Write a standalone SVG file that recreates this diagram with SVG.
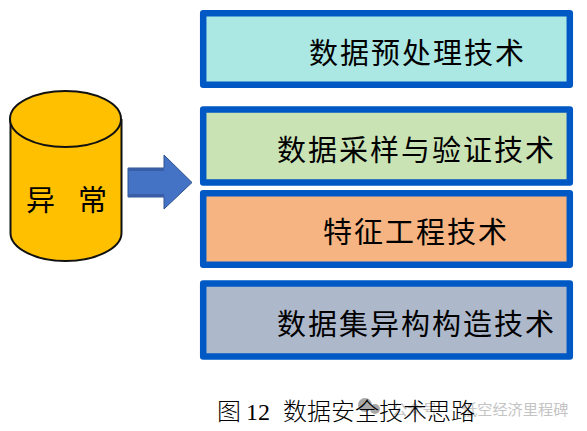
<svg xmlns="http://www.w3.org/2000/svg" width="587" height="431" viewBox="0 0 587 431">
<style>
.box{stroke:#0058c4;stroke-width:6.500;stroke-linejoin:round}
.t{font-family:"Noto Sans CJK SC","Noto Sans CJK JP",sans-serif;font-size:29px;fill:#000;letter-spacing:2px}
.c{fill:#ffc000;stroke:#111;stroke-width:2}
.cap{font-family:"Noto Sans CJK SC",sans-serif;font-size:24px;font-weight:300;fill:#000}
.wm{font-family:"Noto Sans CJK SC",sans-serif;font-size:15.200px;fill:#c4c4c4}
</style>
<rect width="587" height="431" fill="#fff"/>
<g id="cylinder">
<path class="c" d="M10.500 119V233C10.500 248 35 261 65.500 261S121.500 248 121.500 233V119"/>
<ellipse class="c" cx="65.500" cy="119" rx="55.500" ry="28"/>
<text class="t" x="26" y="211">异</text>
<text class="t" x="78" y="211">常</text>
</g>
<g id="connectors">
<path d="M128 168H164V155L192 182.500L164 209V197H128Z" fill="#4472c4" stroke="#2f528f" stroke-width="1"/>
<path d="M128.500 169.500H164M128.500 195.500H164" fill="none" stroke="#3a5ea6" stroke-width="3"/>
</g>
<g id="node1"><rect class="box" x="203.200" y="13.200" width="366.600" height="71.600" fill="#abe8e3"/><text class="t" x="309" y="64">数据预处理技术</text></g>
<g id="node2"><rect class="box" x="203.200" y="109.500" width="366.600" height="73" fill="#c9e3b5"/><text class="t" x="277" y="161">数据采样与验证技术</text></g>
<g id="node3"><rect class="box" x="203.200" y="193.200" width="366.600" height="71.600" fill="#f5b482"/><text class="t" x="323" y="243">特征工程技术</text></g>
<g id="node4"><rect class="box" x="203.200" y="283.500" width="366.600" height="73" fill="#adb8cb"/><text class="t" x="277" y="335">数据集异构构造技术</text></g>
<g id="watermark">
<ellipse cx="365" cy="405" rx="7" ry="7" fill="#a8a8a8"/>
<circle cx="375" cy="409" r="5" fill="#a8a8a8"/>
<text class="wm" x="392" y="415">公众号</text>
<text class="wm" x="462" y="415">低空经济里程碑</text>
</g>
<text class="cap" x="217" y="420">图</text>
<text x="246" y="420" font-family="'Liberation Serif',serif" font-size="24" fill="#000">12</text>
<text class="cap" x="283" y="420">数据安全技术思路</text>
</svg>
